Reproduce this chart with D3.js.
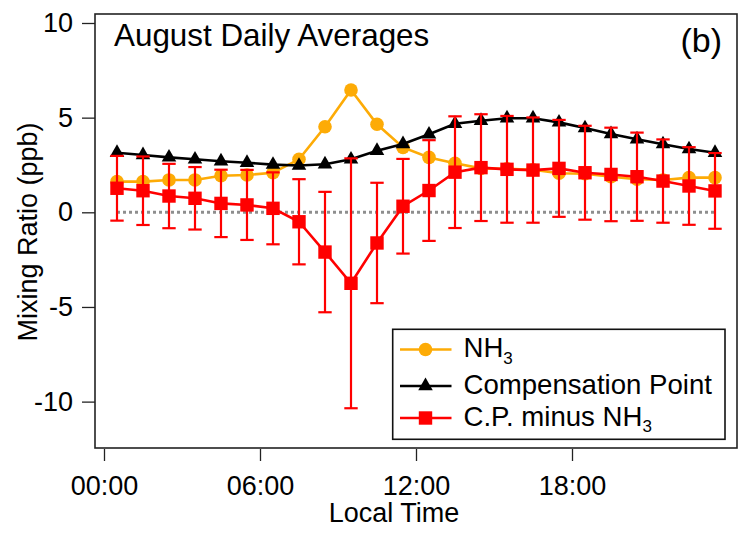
<!DOCTYPE html>
<html>
<head>
<meta charset="utf-8">
<script src="https://cdn.jsdelivr.net/npm/d3@7"></script>
<style>
  html, body { margin: 0; padding: 0; background: #fff; }
  svg { display: block; font-family: "Liberation Sans", Arial, sans-serif; }
</style>
</head>
<body>
<svg id="chart" width="740" height="534"></svg>
<script>
// ---- data ----
const hours = [0.5, 1.5, 2.5, 3.5, 4.5, 5.5, 6.5, 7.5, 8.5, 9.5, 10.5, 11.5,
               12.5, 13.5, 14.5, 15.5, 16.5, 17.5, 18.5, 19.5, 20.5, 21.5, 22.5, 23.5];
const nh3 = [1.62, 1.62, 1.71, 1.71, 1.93, 1.97, 2.09, 2.8, 4.52, 6.46, 4.65, 3.43,
             2.9, 2.59, 2.32, 2.3, 2.25, 2.06, 2.04, 1.88, 1.75, 1.71, 1.83, 1.83];
const compPoint = [3.15, 3.03, 2.9, 2.8, 2.7, 2.62, 2.52, 2.47, 2.54, 2.8, 3.25, 3.61,
                   4.12, 4.68, 4.84, 4.97, 4.97, 4.75, 4.45, 4.14, 3.86, 3.6, 3.34, 3.15];
const cpMinusNh3 = [1.27, 1.14, 0.86, 0.74, 0.47, 0.39, 0.21, -0.5, -2.1, -3.75, -1.62, 0.32,
                    1.15, 2.12, 2.36, 2.27, 2.23, 2.32, 2.09, 2.0, 1.88, 1.65, 1.39, 1.13];
const cpMinusNh3Err = [1.71, 1.81, 1.7, 1.65, 1.78, 1.85, 1.9, 2.25, 3.18, 6.6, 3.18, 2.5,
                       2.66, 2.95, 2.82, 2.82, 2.78, 2.56, 2.48, 2.47, 2.33, 2.2, 2.05, 2.0];
const xTicks = [0, 6, 12, 18];
const xTickLabels = ["00:00", "06:00", "12:00", "18:00"];
const yTicks = [10, 5, 0, -5, -10];
const seriesNames = ["NH3", "Compensation Point", "C.P. minus NH3"];

// ---- layout ----
const svg = d3.select("#chart");
const L = 95, R = 737, T = 14, B = 448;
const x = d3.scaleLinear().domain([-0.346, 24.346]).range([L, R]);
const y = d3.scaleLinear().domain([-12.45, 10.475]).range([B, T]);

const cOrange = "#FDAB06", cBlack = "#000000", cRed = "#FF0000";

// axes
const xAxis = svg.append("g").attr("transform", `translate(0,${B + 1})`)
  .call(d3.axisBottom(x).tickValues(xTicks).tickFormat((d, i) => xTickLabels[i])
        .tickSize(12).tickSizeOuter(0).tickPadding(15));
xAxis.select(".domain").remove();
xAxis.selectAll(".tick line").attr("stroke", "#222").attr("stroke-width", 1.3);
xAxis.selectAll(".tick text").attr("font-size", 27).attr("fill", "#000")
  .attr("font-family", "Liberation Sans, Arial, sans-serif");

const yAxis = svg.append("g").attr("transform", `translate(${L},0)`)
  .call(d3.axisLeft(y).tickValues(yTicks).tickFormat(d => String(d))
        .tickSize(13).tickSizeOuter(0).tickPadding(9));
yAxis.select(".domain").remove();
yAxis.selectAll(".tick line").attr("stroke", "#222").attr("stroke-width", 1.3);
yAxis.selectAll(".tick text").attr("font-size", 27).attr("fill", "#000")
  .attr("font-family", "Liberation Sans, Arial, sans-serif");

// frame
svg.append("rect").attr("x", L).attr("y", T).attr("width", R - L).attr("height", B - T)
  .attr("fill", "none").attr("stroke", "#222").attr("stroke-width", 1.6);

// zero line
svg.append("line")
  .attr("x1", x(hours[0])).attr("x2", x(hours[hours.length - 1]))
  .attr("y1", y(0)).attr("y2", y(0))
  .attr("stroke", "#8e8e8e").attr("stroke-width", 3).attr("stroke-dasharray", "3,3");

const line = d3.line().x((d, i) => x(hours[i])).y(d => y(d));

// NH3
svg.append("path").datum(nh3).attr("d", line)
  .attr("fill", "none").attr("stroke", cOrange).attr("stroke-width", 2.6);
svg.append("g").selectAll("circle").data(nh3).join("circle")
  .attr("cx", (d, i) => x(hours[i])).attr("cy", d => y(d)).attr("r", 6.8)
  .attr("fill", cOrange);

// Compensation point
const tri = d3.symbol().type(d3.symbolTriangle).size(92);
svg.append("path").datum(compPoint).attr("d", line)
  .attr("fill", "none").attr("stroke", cBlack).attr("stroke-width", 2.6);
svg.append("g").selectAll("path").data(compPoint).join("path")
  .attr("transform", (d, i) => `translate(${x(hours[i])},${y(d)})`)
  .attr("d", tri).attr("fill", cBlack);

// C.P. minus NH3 error bars
const eb = svg.append("g").attr("stroke", cRed).attr("stroke-width", 2.2);
cpMinusNh3.forEach((d, i) => {
  const cx = x(hours[i]);
  const y1 = y(d + cpMinusNh3Err[i]), y2 = y(d - cpMinusNh3Err[i]);
  eb.append("line").attr("x1", cx).attr("x2", cx).attr("y1", y1).attr("y2", y2);
  eb.append("line").attr("x1", cx - 6.7).attr("x2", cx + 6.7).attr("y1", y1).attr("y2", y1);
  eb.append("line").attr("x1", cx - 6.7).attr("x2", cx + 6.7).attr("y1", y2).attr("y2", y2);
});
svg.append("path").datum(cpMinusNh3).attr("d", line)
  .attr("fill", "none").attr("stroke", cRed).attr("stroke-width", 2.6);
svg.append("g").selectAll("rect").data(cpMinusNh3).join("rect")
  .attr("x", (d, i) => x(hours[i]) - 6.7).attr("y", d => y(d) - 6.7)
  .attr("width", 13.4).attr("height", 13.4).attr("fill", cRed);

// Titles
svg.append("text").attr("x", 114).attr("y", 46).attr("font-size", 31.4)
  .text("August Daily Averages");
svg.append("text").attr("x", 722).attr("y", 52).attr("font-size", 34)
  .attr("text-anchor", "end").text("(b)");
svg.append("text").attr("x", 394).attr("y", 522).attr("font-size", 27)
  .attr("text-anchor", "middle").text("Local Time");
svg.append("text").attr("transform", "translate(37,232) rotate(-90)")
  .attr("font-size", 27).attr("text-anchor", "middle").text("Mixing Ratio (ppb)");

// Legend
const lg = svg.append("g");
lg.append("rect").attr("x", 392.7).attr("y", 329.3).attr("width", 332.3).attr("height", 110)
  .attr("fill", "#fff").attr("stroke", "#111").attr("stroke-width", 1.6);
const rowsY = [349.5, 386, 418];
const colors = [cOrange, cBlack, cRed];
rowsY.forEach((ry, i) => {
  lg.append("line").attr("x1", 400).attr("x2", 451.5).attr("y1", ry).attr("y2", ry)
    .attr("stroke", colors[i]).attr("stroke-width", 2.6);
  if (i === 0) lg.append("circle").attr("cx", 425.5).attr("cy", ry).attr("r", 6.8).attr("fill", colors[i]);
  if (i === 1) lg.append("path").attr("transform", `translate(425.5,${ry})`).attr("d", tri).attr("fill", colors[i]);
  if (i === 2) lg.append("rect").attr("x", 425.5 - 6.7).attr("y", ry - 6.7).attr("width", 13.4).attr("height", 13.4).attr("fill", colors[i]);
  const t = lg.append("text").attr("x", 463.5).attr("y", ry + 7.5).attr("font-size", 27.6);
  const name = seriesNames[i];
  if (name.endsWith("NH3")) {
    t.append("tspan").text(name.slice(0, -1));
    t.append("tspan").attr("font-size", 17).attr("dy", 6.6).text("3");
  } else {
    t.text(name);
  }
});
</script>
</body>
</html>
